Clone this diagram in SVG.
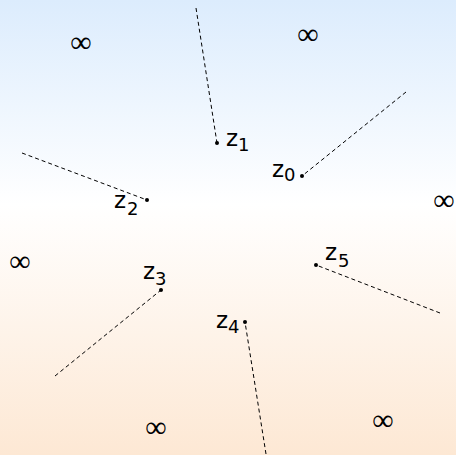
<svg xmlns="http://www.w3.org/2000/svg" width="456" height="455" viewBox="0 0 456 455">
<defs>
<linearGradient id="bg" x1="0" y1="0" x2="0" y2="1">
<stop offset="0" stop-color="#dcecfd"/>
<stop offset="0.45" stop-color="#ffffff"/>
<stop offset="1" stop-color="#fde8d4"/>
</linearGradient>
<style>
.ln{stroke:#000;stroke-width:1;stroke-dasharray:4 3;fill:none}
.dot{fill:#000}
.z{font-family:"DejaVu Sans",sans-serif;font-size:23px;fill:#000}
.s{font-family:"DejaVu Sans",sans-serif;font-size:18px;fill:#000}
.inf{font-family:"Liberation Serif",serif;font-size:30px;fill:#000;text-anchor:middle}
</style>
</defs>
<rect x="0" y="0" width="456" height="455" fill="url(#bg)"/>
<g id="connectors">
<line class="ln" x1="196" y1="8" x2="217" y2="143"/>
<line class="ln" x1="406" y1="92" x2="302" y2="176"/>
<line class="ln" x1="22" y1="153" x2="147" y2="200"/>
<line class="ln" x1="55" y1="376" x2="161" y2="290"/>
<line class="ln" x1="266" y1="454" x2="245" y2="322"/>
<line class="ln" x1="440" y1="313" x2="316" y2="265"/>
</g>
<g id="z0"><circle class="dot" cx="302" cy="176" r="2"/><text class="z" x="272" y="177">z</text><text class="s" x="284" y="181">0</text></g>
<g id="z1"><circle class="dot" cx="217" cy="143" r="2"/><text class="z" x="226" y="146">z</text><text class="s" x="238" y="151">1</text></g>
<g id="z2"><circle class="dot" cx="147" cy="200" r="2"/><text class="z" x="114" y="208">z</text><text class="s" x="127" y="215">2</text></g>
<g id="z3"><circle class="dot" cx="161" cy="290" r="2"/><text class="z" x="143" y="279">z</text><text class="s" x="155" y="285">3</text></g>
<g id="z4"><circle class="dot" cx="245" cy="322" r="2"/><text class="z" x="216" y="328">z</text><text class="s" x="228" y="333">4</text></g>
<g id="z5"><circle class="dot" cx="316" cy="265" r="2"/><text class="z" x="325" y="260">z</text><text class="s" x="338" y="267">5</text></g>
<g id="infinities">
<text class="inf" x="81" y="52">∞</text>
<text class="inf" x="308" y="44">∞</text>
<text class="inf" x="444" y="210">∞</text>
<text class="inf" x="20" y="271">∞</text>
<text class="inf" x="156" y="437">∞</text>
<text class="inf" x="383" y="430">∞</text>
</g>
</svg>
